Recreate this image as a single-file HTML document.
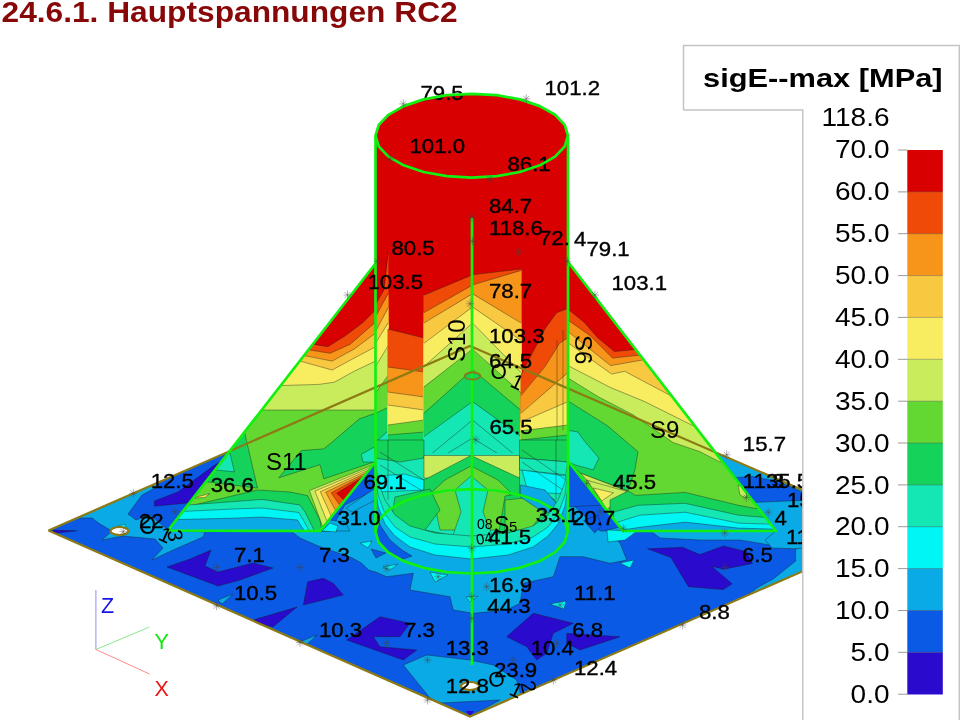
<!DOCTYPE html>
<html><head><meta charset="utf-8">
<style>
html,body{margin:0;padding:0;background:#fff;width:960px;height:720px;overflow:hidden}
svg{display:block}
text{font-family:"Liberation Sans",Arial,sans-serif}
.cl{stroke:#1a1a1a;stroke-width:0.6;stroke-opacity:0.65;stroke-linejoin:round}
.ln{fill:none;stroke:#1a1a1a;stroke-width:0.6;stroke-opacity:0.65;stroke-linejoin:round}
.lb text{font-size:20px;fill:#000}
</style></head><body>
<svg width="960" height="720" viewBox="0 0 960 720">
<rect width="960" height="720" fill="#fff"/>
<text transform="translate(1.5,21.6) scale(1.075,1)" font-size="29.5" font-weight="bold" fill="#880808">24.6.1. Hauptspannungen RC2</text>
<g clip-path="url(#plotclip)">
<clipPath id="plotclip"><rect x="0" y="30" width="802.5" height="690"/></clipPath>
<polygon points="48.5,530.5 470.0,346.0 896.0,530.5 470.0,716.5" fill="#0A5AE6"/>
<clipPath id="plc"><polygon points="48.5,530.5 470,346 896,530.5 470,716.5"/></clipPath><g clip-path="url(#plc)">
<polygon points="78.0,510.0 160.0,475.0 157.0,487.0 142.0,495.0 128.0,514.0 136.0,520.0 150.0,515.0 168.0,530.0 205.0,532.0 203.0,537.0 173.0,550.0 152.0,560.0 163.0,548.0 155.0,539.0 122.0,536.0 102.0,540.0 112.0,531.0 100.0,524.0 92.0,518.0 80.0,518.0" fill="#0AAAE6" class="cl"/>
<polygon points="291.0,531.0 330.0,531.0 345.0,505.0 375.0,490.0 380.0,500.0 568.0,500.0 600.0,531.0 623.0,531.0 700.0,531.0 776.0,531.0 790.0,535.0 802.0,531.0 802.0,549.0 796.0,549.0 770.0,545.0 740.0,540.0 700.0,540.0 660.0,538.0 640.0,523.0 606.7,530.0 620.0,543.3 626.7,560.0 610.0,563.3 583.3,556.7 560.0,556.7 553.3,576.7 523.3,583.3 520.0,603.3 506.7,610.0 473.3,613.3 453.3,610.0 450.0,596.7 410.0,590.0 413.3,573.3 386.7,576.7 375.5,572.0 368.6,570.0 361.7,563.3 352.0,557.8 320.0,546.7 300.0,538.0" fill="#0AAAE6" class="cl"/>
<polygon points="371.0,549.0 386.0,553.0 376.0,558.0" fill="#0A5AE6" class="cl"/>
<polygon points="346.0,508.0 375.5,488.0 375.5,500.0 352.0,512.0" fill="#0AAAE6" class="cl"/>
<polygon points="318.0,531.0 330.0,520.0 345.0,522.0 350.0,531.0" fill="#0AAAE6" class="cl"/>
<polygon points="322.0,531.0 330.0,523.0 338.0,526.0 336.0,532.0" fill="#00F5F5" class="cl"/>
<polygon points="569.0,460.8 601.7,505.3 569.0,506.7" fill="#0A5AE6" class="cl"/>
<polygon points="583.6,520.6 597.5,515.0 601.7,526.1 594.7,533.0" fill="#0A5AE6" class="cl"/>
<polygon points="607.0,530.0 637.0,531.0 625.0,540.0 608.0,542.0" fill="#00F5F5" class="cl"/>
<polygon points="218.0,600.0 233.0,594.0 222.0,604.0" fill="#0AAAE6" class="cl"/>
<polygon points="302.0,641.0 317.0,635.0 306.0,645.0" fill="#0AAAE6" class="cl"/>
<polygon points="403.3,665.0 426.7,655.0 470.0,660.0 493.3,665.0 516.7,680.0 522.0,700.0 470.0,716.5 430.0,698.0" fill="#0AAAE6" class="cl"/>
<polygon points="440.0,703.0 500.0,700.0 470.0,716.5" fill="#0A5AE6" class="cl"/>
<polygon points="466.0,711.0 474.0,711.0 470.0,717.0" fill="#2A0ACC"/>
<polygon points="700.0,440.0 810.0,490.0 802.0,492.0 779.6,481.7 752.5,476.5 735.8,477.5 721.0,458.8" fill="#0AAAE6" class="cl"/>
<polygon points="752.5,502.5 802.5,500.4 802.5,549.0 772.0,548.0 765.0,540.0 776.0,531.0" fill="#0AAAE6" class="cl"/>
<polygon points="740.0,600.0 758.9,586.7 773.3,578.9 795.6,561.1 795.6,548.9 802.5,547.8 802.5,575.0" fill="#0AAAE6" class="cl"/>
<polygon points="52.5,530.0 76.7,530.8 55.0,533.3" fill="#2A0ACC" class="cl"/>
<polygon points="154.4,501.0 178.3,491.7 213.8,465.6 220.0,462.0 210.0,480.0 187.7,503.0 154.4,506.2" fill="#2A0ACC" class="cl"/>
<polygon points="167.0,567.0 190.0,559.0 211.0,550.0 205.0,566.0 218.0,572.0 253.0,563.0 273.0,568.0 240.0,580.0 218.0,586.0" fill="#2A0ACC" class="cl"/>
<polygon points="307.7,581.7 323.3,578.3 333.3,583.3 343.3,595.0 303.3,605.0" fill="#2A0ACC" class="cl"/>
<polygon points="253.0,620.0 297.0,607.0 273.0,627.0 257.0,623.0" fill="#2A0ACC" class="cl"/>
<polygon points="346.7,640.0 380.0,616.7 410.0,623.3 400.0,636.7 373.3,636.7 380.0,646.7 416.7,650.0 403.3,660.0" fill="#2A0ACC" class="cl"/>
<polygon points="506.7,636.7 533.3,613.3 573.3,623.3 553.3,633.3 546.7,653.3 536.7,660.0 526.7,646.7" fill="#2A0ACC" class="cl"/>
<polygon points="566.7,633.3 620.0,636.7 580.0,650.0 566.7,643.3" fill="#2A0ACC" class="cl"/>
<polygon points="647.5,548.8 682.5,547.3 700.0,554.6 723.4,545.9 746.7,551.7 752.5,563.4 723.4,569.2 711.7,566.3 732.1,583.8 723.4,589.6 688.4,586.7 679.6,572.1 670.9,557.5" fill="#2A0ACC" class="cl"/>
<polygon points="360.0,543.0 372.0,541.0 368.0,548.0" fill="#00F5F5" class="cl"/>
<polygon points="383.0,567.0 398.0,564.0 390.0,570.0" fill="#00F5F5" class="cl"/>
<polygon points="430.0,572.0 448.0,575.0 435.0,582.0" fill="#00F5F5" class="cl"/>
<polygon points="466.0,597.0 478.0,596.0 470.0,602.0" fill="#00F5F5" class="cl"/>
<polygon points="550.0,604.0 566.0,601.0 564.0,609.0" fill="#00F5F5" class="cl"/>
<polygon points="115.0,527.0 125.0,524.0 128.0,533.0 118.0,537.0" fill="#00F5F5" class="cl"/>
<polygon points="620.0,563.0 634.0,560.0 630.0,568.0" fill="#00F5F5" class="cl"/>
</g>
<clipPath id="s11c"><polygon points="375.5,263.5 168,530.5 320,531 375.5,462"/></clipPath><g clip-path="url(#s11c)">
<polygon points="375.5,250.0 150.0,540.0 380.0,540.0" fill="#64D832"/>
<polygon points="244.5,432.0 257.5,488.1 207.5,481.9 150.0,482.0 150.0,432.0" fill="#14D25A" class="cl"/>
<polygon points="278.8,477.8 320.0,464.7 323.8,478.8 374.4,461.9 376.0,413.1 359.4,418.8 333.1,441.3 323.8,448.8 301.3,450.6" fill="#14D25A" class="cl"/>
<polygon points="361.3,454.4 374.4,446.9 376.0,462.0 363.0,462.0" fill="#14E6B4" class="cl"/>
<polygon points="230.0,453.0 234.4,471.9 216.2,470.0 210.0,462.0" fill="#14E6B4" class="cl"/>
<polygon points="193.0,498.0 210.0,493.5 205.0,497.5" fill="#F8EC60" class="cl"/>
<polygon points="240.0,400.0 376.0,400.0 376.0,409.0 346.3,409.4 320.0,409.4 265.6,409.4 240.0,409.4" fill="#C8EC5C" class="cl"/>
<polygon points="240.0,384.0 376.0,361.0 376.0,410.0 240.0,410.0" fill="#C8EC5C" class="cl"/>
<polygon points="280.0,385.6 318.9,384.4 334.4,382.2 354.4,371.1 375.6,361.1 376.0,240.0 240.0,240.0" fill="#F8EC60" class="cl"/>
<polygon points="300.0,361.1 332.2,370.0 358.9,355.6 375.6,346.7 376.0,240.0 260.0,240.0" fill="#F8C840" class="cl"/>
<polygon points="304.4,355.6 332.2,361.1 354.4,348.9 372.2,335.6 375.6,333.3 376.0,240.0 270.0,240.0" fill="#F7941A" class="cl"/>
<polygon points="310.0,350.0 330.0,353.3 350.0,344.4 367.8,328.9 375.6,322.2 376.0,240.0 280.0,240.0" fill="#F04A08" class="cl"/>
<polygon points="314.4,344.4 327.8,346.7 345.6,335.6 363.3,322.2 374.4,311.1 375.6,306.7 376.0,240.0 290.0,240.0" fill="#D80000" class="cl"/>
<polygon points="160.0,510.0 190.0,506.0 215.0,500.0 257.5,490.0 290.0,492.0 307.5,495.6 320.0,520.0 322.0,532.0 160.0,532.0" fill="#14D25A" class="cl"/>
<polygon points="160.0,507.0 228.0,502.0 262.0,499.4 300.0,505.0 305.0,512.0 315.0,532.0 160.0,532.0" fill="#14E6B4" class="cl"/>
<polygon points="160.0,512.5 237.5,508.8 262.0,508.0 299.0,512.5 306.0,525.0 310.0,532.0 160.0,532.0" fill="#00F5F5" class="cl"/>
<polygon points="160.0,520.0 237.5,518.0 262.0,517.0 297.5,520.0 305.0,532.0 160.0,532.0" fill="#0AAAE6" class="cl"/>
<polygon points="309.4,490.6 371.3,465.6 374.3,465.6 325.9,527.2 322.9,527.2" fill="#C8EC5C" class="cl"/>
<polygon points="314.9,491.1 369.4,468.1 372.4,468.1 330.2,521.8 327.2,521.8" fill="#F8EC60" class="cl"/>
<polygon points="320.3,491.7 367.4,470.6 370.4,470.6 334.4,516.4 331.4,516.4" fill="#F8C840" class="cl"/>
<polygon points="325.8,492.2 365.5,473.1 368.5,473.1 338.7,511.0 335.7,511.0" fill="#F7941A" class="cl"/>
<polygon points="331.2,492.8 363.5,475.5 366.5,475.5 342.9,505.6 339.9,505.6" fill="#F04A08" class="cl"/>
<polygon points="336.7,493.3 361.6,478.0 364.6,478.0 347.1,500.2 344.1,500.2" fill="#D80000" class="cl"/>
</g>
<clipPath id="s9c"><polygon points="568.5,262.5 776,531 623,531 568.5,461.5"/></clipPath><g clip-path="url(#s9c)">
<polygon points="560.0,250.0 790.0,540.0 560.0,540.0" fill="#64D832"/>
<polygon points="566.0,399.7 607.4,425.7 638.0,451.7 634.9,470.0 628.0,491.0 580.8,473.3 566.0,461.0" fill="#14D25A" class="cl"/>
<polygon points="566.0,430.0 578.0,432.0 583.6,440.0 598.9,458.0 593.3,469.9 575.3,465.0 566.0,461.0" fill="#14E6B4" class="cl"/>
<polygon points="566.0,376.8 598.2,396.7 633.4,415.0 673.1,442.5 700.0,451.7 720.0,462.0 800.0,462.0 800.0,250.0 566.0,250.0" fill="#C8EC5C" class="cl"/>
<polygon points="566.0,364.6 610.4,387.5 644.0,401.3 693.0,425.7 800.0,420.0 800.0,250.0 566.0,250.0" fill="#F8EC60" class="cl"/>
<polygon points="566.0,341.3 611.6,374.1 624.7,371.3 670.6,395.6 800.0,380.0 800.0,250.0 566.0,250.0" fill="#F8C840" class="cl"/>
<polygon points="566.0,330.0 610.6,365.6 642.5,360.0 800.0,350.0 800.0,250.0 566.0,250.0" fill="#F7941A" class="cl"/>
<polygon points="566.0,318.8 590.0,335.6 612.5,358.1 637.8,355.3 642.5,356.3 800.0,330.0 800.0,250.0 566.0,250.0" fill="#F04A08" class="cl"/>
<polygon points="566.0,307.5 584.4,322.5 597.5,337.5 614.4,351.6 633.1,349.7 640.0,345.0 800.0,330.0 800.0,250.0 566.0,250.0" fill="#D80000" class="cl"/>
<polygon points="580.8,473.3 628.0,491.4 615.6,515.0" fill="#C8EC5C" class="cl"/>
<polygon points="587.0,480.3 626.7,491.4 607.2,509.4" fill="#C8EC5C" class="cl"/>
<polygon points="593.3,488.0 613.5,492.8 601.7,501.0" fill="#F8EC60" class="cl"/>
<polygon points="610.0,500.0 628.0,491.0 635.6,495.4 685.1,492.4 738.5,505.3 754.4,508.3 790.0,512.0 790.0,540.0 610.0,540.0" fill="#14D25A" class="cl"/>
<polygon points="614.0,512.0 637.6,505.3 685.1,503.3 738.5,515.2 762.3,517.2 790.0,520.0 790.0,540.0 610.0,540.0" fill="#14E6B4" class="cl"/>
<polygon points="618.0,522.0 639.6,515.2 685.1,512.2 738.5,523.1 768.2,524.1 790.0,526.0 790.0,540.0 610.0,540.0" fill="#00F5F5" class="cl"/>
<polygon points="622.0,530.0 641.6,527.1 685.1,522.1 738.5,528.1 772.2,529.1 790.0,531.0 790.0,540.0 610.0,540.0" fill="#0AAAE6" class="cl"/>
<polygon points="738.0,485.0 747.0,490.0 746.0,498.0 740.0,495.0" fill="#C8EC5C" class="cl"/>
</g>
<clipPath id="colc"><path d="M375.5,135.7 L375.5,531.3 A96.25,42.2 0 0 0 568,531.3 L568,135.7 Z"/></clipPath><g clip-path="url(#colc)">
<polygon points="370.0,130.0 575.0,130.0 575.0,580.0 370.0,580.0" fill="#D80000"/>
<polygon points="375.0,305.0 384.0,290.0 388.5,252.0 388.5,460.0 375.0,460.0" fill="#F04A08"/>
<polygon points="375.0,317.0 388.5,293.7 388.5,460.0 375.0,460.0" fill="#F7941A"/>
<polygon points="375.0,331.7 388.5,308.0 388.5,460.0 375.0,460.0" fill="#F8C840"/>
<polygon points="375.0,343.3 388.5,323.0 388.5,460.0 375.0,460.0" fill="#F8EC60"/>
<polygon points="375.0,366.6 388.5,346.0 388.5,460.0 375.0,460.0" fill="#C8EC5C"/>
<polygon points="375.0,393.0 388.5,375.4 388.5,460.0 375.0,460.0" fill="#64D832"/>
<polygon points="375.0,413.3 388.5,407.5 388.5,460.0 375.0,460.0" fill="#14D25A"/>
<polygon points="375.0,442.5 388.5,430.8 388.5,460.0 375.0,460.0" fill="#14E6B4"/>
<polyline points="375.5,305.0 384.0,290.0 388.0,252.0" class="ln"/>
<polyline points="375.5,317.0 388.0,293.7" class="ln"/>
<polyline points="375.5,331.7 388.0,308.0" class="ln"/>
<polyline points="375.5,343.3 388.0,323.0" class="ln"/>
<polyline points="375.5,366.6 388.0,346.0" class="ln"/>
<polyline points="375.5,393.0 388.0,375.4" class="ln"/>
<polyline points="375.5,413.3 388.0,407.5" class="ln"/>
<polyline points="375.5,442.5 388.0,430.8" class="ln"/>
<polygon points="387.5,329.0 424.5,338.0 424.5,460.0 387.5,460.0" fill="#F04A08"/>
<polygon points="387.5,367.0 424.5,372.0 424.5,460.0 387.5,460.0" fill="#F7941A"/>
<polygon points="387.5,392.0 424.5,397.0 424.5,460.0 387.5,460.0" fill="#F8C840"/>
<polygon points="387.5,405.0 424.5,410.0 424.5,460.0 387.5,460.0" fill="#F8EC60"/>
<polygon points="387.5,425.0 424.5,420.0 424.5,460.0 387.5,460.0" fill="#64D832"/>
<polygon points="387.5,435.0 424.5,432.0 424.5,460.0 387.5,460.0" fill="#14D25A"/>
<polygon points="387.5,450.0 424.5,445.0 424.5,460.0 387.5,460.0" fill="#14E6B4"/>
<polyline points="388.0,329.0 424.0,338.0" class="ln"/>
<polyline points="388.0,367.0 424.0,372.0" class="ln"/>
<polyline points="388.0,392.0 424.0,397.0" class="ln"/>
<polyline points="388.0,405.0 424.0,410.0" class="ln"/>
<polyline points="388.0,425.0 424.0,420.0" class="ln"/>
<polyline points="388.0,435.0 424.0,432.0" class="ln"/>
<polyline points="388.0,450.0 424.0,445.0" class="ln"/>
<polygon points="423.5,295.2 473.0,274.8 473.0,460.0 423.5,460.0" fill="#F04A08"/>
<polygon points="423.5,312.7 473.0,285.0 473.0,460.0 423.5,460.0" fill="#F7941A"/>
<polygon points="423.5,323.0 473.0,293.7 473.0,460.0 423.5,460.0" fill="#F8C840"/>
<polygon points="423.5,343.3 473.0,306.9 473.0,460.0 423.5,460.0" fill="#F8EC60"/>
<polygon points="423.5,366.6 473.0,323.0 473.0,460.0 423.5,460.0" fill="#C8EC5C"/>
<polygon points="423.5,387.0 473.0,349.0 473.0,460.0 423.5,460.0" fill="#64D832"/>
<polygon points="423.5,413.3 473.0,369.6 473.0,460.0 423.5,460.0" fill="#14D25A"/>
<polygon points="423.5,436.6 473.0,401.6 473.0,460.0 423.5,460.0" fill="#14E6B4"/>
<polyline points="424.0,295.2 472.5,274.8" class="ln"/>
<polyline points="424.0,312.7 472.5,285.0" class="ln"/>
<polyline points="424.0,323.0 472.5,293.7" class="ln"/>
<polyline points="424.0,343.3 472.5,306.9" class="ln"/>
<polyline points="424.0,366.6 472.5,323.0" class="ln"/>
<polyline points="424.0,387.0 472.5,349.0" class="ln"/>
<polyline points="424.0,413.3 472.5,369.6" class="ln"/>
<polyline points="424.0,436.6 472.5,401.6" class="ln"/>
<polygon points="472.0,274.8 521.5,269.0 521.5,460.0 472.0,460.0" fill="#F04A08"/>
<polygon points="472.0,285.0 521.5,270.4 521.5,460.0 472.0,460.0" fill="#F7941A"/>
<polygon points="472.0,293.7 521.5,323.0 521.5,460.0 472.0,460.0" fill="#F8C840"/>
<polygon points="472.0,306.9 521.5,340.4 521.5,460.0 472.0,460.0" fill="#F8EC60"/>
<polygon points="472.0,323.0 521.5,372.5 521.5,460.0 472.0,460.0" fill="#C8EC5C"/>
<polygon points="472.0,349.0 521.5,393.0 521.5,460.0 472.0,460.0" fill="#64D832"/>
<polygon points="472.0,369.6 521.5,410.4 521.5,460.0 472.0,460.0" fill="#14D25A"/>
<polygon points="472.0,401.6 521.5,436.6 521.5,460.0 472.0,460.0" fill="#14E6B4"/>
<polyline points="472.5,274.8 521.0,269.0" class="ln"/>
<polyline points="472.5,285.0 521.0,270.4" class="ln"/>
<polyline points="472.5,293.7 521.0,323.0" class="ln"/>
<polyline points="472.5,306.9 521.0,340.4" class="ln"/>
<polyline points="472.5,323.0 521.0,372.5" class="ln"/>
<polyline points="472.5,349.0 521.0,393.0" class="ln"/>
<polyline points="472.5,369.6 521.0,410.4" class="ln"/>
<polyline points="472.5,401.6 521.0,436.6" class="ln"/>
<polygon points="520.5,375.4 545.0,328.7 556.6,312.7 568.5,308.3 568.5,460.0 520.5,460.0" fill="#F04A08"/>
<polygon points="520.5,395.8 545.0,366.6 559.6,343.3 568.5,337.5 568.5,460.0 520.5,460.0" fill="#F7941A"/>
<polygon points="520.5,413.3 568.5,372.5 568.5,460.0 520.5,460.0" fill="#F8C840"/>
<polygon points="520.5,422.0 568.5,401.6 568.5,460.0 520.5,460.0" fill="#F8EC60"/>
<polygon points="520.5,430.8 568.5,425.0 568.5,460.0 520.5,460.0" fill="#64D832"/>
<polygon points="520.5,440.0 568.5,435.0 568.5,460.0 520.5,460.0" fill="#14D25A"/>
<polyline points="521.0,375.4 545.0,328.7 556.6,312.7 568.0,308.3" class="ln"/>
<polyline points="521.0,395.8 545.0,366.6 559.6,343.3 568.0,337.5" class="ln"/>
<polyline points="521.0,413.3 568.0,372.5" class="ln"/>
<polyline points="521.0,422.0 568.0,401.6" class="ln"/>
<polyline points="521.0,430.8 568.0,425.0" class="ln"/>
<polyline points="521.0,440.0 568.0,435.0" class="ln"/>
<polyline points="430.0,455.0 472.5,420.0 515.0,455.0" class="ln"/>
<polyline points="440.0,458.0 472.5,438.0 505.0,458.0" class="ln"/>
<polyline points="557.0,340.0 557.0,440.0" class="ln"/>
<polyline points="563.0,330.0 563.0,430.0" class="ln"/>
<polygon points="370.0,453.0 575.0,453.0 575.0,580.0 370.0,580.0" fill="#14E6B4"/>
<polygon points="375.0,440.0 424.0,440.0 424.0,458.0 400.0,462.0 375.0,458.0" fill="#14D25A" class="cl"/>
<polygon points="378.0,476.0 405.0,474.0 424.0,480.0 424.0,490.0 378.0,492.0" fill="#00F5F5" class="cl"/>
<polyline points="380.0,452.0 424.0,480.0" class="ln"/>
<polyline points="380.0,465.0 424.0,492.0" class="ln"/>
<polyline points="388.0,440.0 388.0,500.0" class="ln"/>
<polygon points="424.0,455.5 519.5,455.5 519.5,478.0 424.0,478.0" fill="#C8EC5C" class="cl"/>
<polygon points="471.0,455.5 519.5,478.0 519.5,505.0 424.0,505.0 424.0,480.0" fill="#14D25A" class="cl"/>
<polygon points="471.0,466.0 498.0,480.0 510.0,492.0 505.0,530.0 440.0,530.0 432.0,492.0 445.0,480.0" fill="#64D832" class="cl"/>
<polygon points="395.0,497.0 430.0,489.0 440.0,510.0 425.0,530.0 455.0,536.0 452.0,545.0 410.0,535.0 392.0,515.0" fill="#14D25A" class="cl"/>
<polygon points="505.0,496.0 540.0,490.0 555.0,500.0 560.0,520.0 530.0,540.0 498.0,538.0" fill="#14D25A" class="cl"/>
<polygon points="505.0,500.0 535.0,497.0 545.0,510.0 530.0,530.0 505.0,530.0" fill="#64D832" class="cl"/>
<polygon points="471.0,476.0 488.0,490.0 483.0,512.0 492.0,535.0 452.0,538.0 461.0,512.0 455.0,490.0" fill="#14E6B4" class="cl"/>
<polygon points="519.5,440.0 568.0,440.0 568.0,462.0 519.5,458.0" fill="#14D25A" class="cl"/>
<polygon points="519.5,458.0 568.0,462.0 568.0,475.0 519.5,470.0" fill="#14E6B4" class="cl"/>
<polygon points="522.0,470.0 566.0,476.0 566.0,494.0 528.0,492.0" fill="#00F5F5" class="cl"/>
<polygon points="520.4,485.0 545.0,490.0 556.0,503.0 556.0,515.0 540.0,510.0 520.4,497.0" fill="#0AAAE6" class="cl"/>
<polyline points="522.0,450.0 566.0,480.0" class="ln"/>
<polyline points="522.0,462.0 566.0,492.0" class="ln"/>
<polyline points="556.0,440.0 556.0,500.0" class="ln"/>
<polygon points="370.0,462.0 375.5,462.0 378.0,482.0 385.0,500.0 395.0,515.0 410.0,526.0 435.0,533.0 471.5,536.0 508.0,533.0 533.0,526.0 548.0,515.0 558.0,500.0 565.0,482.0 567.5,462.0 575.0,462.0 575.0,590.0 370.0,590.0" fill="#14E6B4"/>
<polyline points="375.5,462.0 378.0,482.0 385.0,500.0 395.0,515.0 410.0,526.0 435.0,533.0 471.5,536.0 508.0,533.0 533.0,526.0 548.0,515.0 558.0,500.0 565.0,482.0 567.5,462.0" class="ln"/>
<polygon points="370.0,475.0 375.5,475.0 378.0,495.0 385.0,514.0 395.0,527.0 410.0,537.0 435.0,544.0 471.5,547.0 508.0,544.0 533.0,537.0 548.0,527.0 558.0,514.0 565.0,495.0 567.5,475.0 575.0,475.0 575.0,590.0 370.0,590.0" fill="#00F5F5"/>
<polyline points="375.5,475.0 378.0,495.0 385.0,514.0 395.0,527.0 410.0,537.0 435.0,544.0 471.5,547.0 508.0,544.0 533.0,537.0 548.0,527.0 558.0,514.0 565.0,495.0 567.5,475.0" class="ln"/>
<polygon points="370.0,488.0 375.5,488.0 378.0,506.0 385.0,524.0 395.0,536.0 410.0,547.0 435.0,555.0 471.5,559.0 508.0,555.0 533.0,547.0 548.0,536.0 558.0,524.0 565.0,506.0 567.5,488.0 575.0,488.0 575.0,590.0 370.0,590.0" fill="#0AAAE6"/>
<polyline points="375.5,488.0 378.0,506.0 385.0,524.0 395.0,536.0 410.0,547.0 435.0,555.0 471.5,559.0 508.0,555.0 533.0,547.0 548.0,536.0 558.0,524.0 565.0,506.0 567.5,488.0" class="ln"/>
<polygon points="375.5,505.0 380.0,525.0 390.0,540.0 402.0,550.0 412.0,556.0 400.0,560.0 375.5,560.0" fill="#0A5AE6" class="cl"/>
</g>
<polygon points="568.0,135.7 564.7,146.5 555.1,156.6 539.8,165.3 519.9,172.0 496.7,176.2 471.8,177.6 446.8,176.2 423.6,172.0 403.7,165.3 388.4,156.6 378.8,146.5 375.5,135.7 378.8,124.9 388.4,114.8 403.7,106.1 423.6,99.4 446.8,95.2 471.8,93.8 496.7,95.2 519.9,99.4 539.8,106.1 555.1,114.7 564.7,124.9" fill="#D80000"/>
<text transform="translate(420.5,100) scale(1.11,1)" font-size="20" stroke="#000" stroke-width="0.35">79.5</text>
<text transform="translate(507.5,171) scale(1.11,1)" font-size="20" stroke="#000" stroke-width="0.35">86.1</text>
<polyline points="48.5,530.5 470,716.5 896,530.5" fill="none" stroke="#8C7A14" stroke-width="2.2"/>
<polyline points="48.5,530.5 470,346 896,530.5" fill="none" stroke="#8C7A14" stroke-width="2.2"/>
<g fill="none" stroke="#12F012" stroke-width="2.7" stroke-linejoin="round">
<polygon points="568.0,135.7 564.7,146.5 555.1,156.6 539.8,165.3 519.9,172.0 496.7,176.2 471.8,177.6 446.8,176.2 423.6,172.0 403.7,165.3 388.4,156.6 378.8,146.5 375.5,135.7 378.8,124.9 388.4,114.8 403.7,106.1 423.6,99.4 446.8,95.2 471.8,93.8 496.7,95.2 519.9,99.4 539.8,106.1 555.1,114.7 564.7,124.9"/>
<polygon points="567.9,531.3 564.6,542.2 555.0,552.4 539.7,561.1 519.7,567.8 496.5,572.1 471.6,573.5 446.7,572.1 423.5,567.8 403.5,561.1 388.2,552.4 378.6,542.2 375.4,531.3 378.6,520.4 388.2,510.2 403.5,501.5 423.5,494.8 446.7,490.5 471.6,489.1 496.5,490.5 519.7,494.8 539.7,501.5 555.0,510.2 564.6,520.4"/>
<line x1="375.5" y1="135.7" x2="375.5" y2="531.3"/>
<line x1="568" y1="135.7" x2="568" y2="531.3"/>
<line x1="472" y1="218" x2="472" y2="665"/>
<polyline points="375.5,263.5 168,530.5 320,531 375.5,462"/>
<polyline points="568.5,262.5 776,531 623,531 568.5,461.5"/>
</g>
<g fill="#fff" stroke="#8C7A14" stroke-width="2.2"><ellipse cx="119.5" cy="531" rx="9" ry="4"/><ellipse cx="470" cy="686" rx="9" ry="4"/></g>
<ellipse cx="472.5" cy="376" rx="8" ry="3.5" fill="none" stroke="#8C7A14" stroke-width="1.8"/>
<g font-size="20" fill="#000" stroke="#000" stroke-width="0.35">
<text transform="translate(409.5,153.3) scale(1.11,1)">101.0</text>
<text transform="translate(544.5,95.0) scale(1.11,1)">101.2</text>
<text transform="translate(489.0,212.5) scale(1.11,1)">84.7</text>
<text transform="translate(489.0,235.0) scale(1.11,1)">118.6</text>
<text transform="translate(539.0,245.0) scale(1.11,1)">72.</text>
<text transform="translate(574.0,245.5) scale(1.11,1)">4</text>
<text transform="translate(586.5,256.0) scale(1.11,1)">79.1</text>
<text transform="translate(611.5,290.0) scale(1.11,1)">103.1</text>
<text transform="translate(391.5,255.0) scale(1.11,1)">80.5</text>
<text transform="translate(367.5,289.0) scale(1.11,1)">103.5</text>
<text transform="translate(489.0,297.5) scale(1.11,1)">78.7</text>
<text transform="translate(489.0,342.5) scale(1.11,1)">103.3</text>
<text transform="translate(489.0,368.0) scale(1.11,1)">64.5</text>
<text transform="translate(489.4,434.0) scale(1.11,1)">65.5</text>
<text transform="translate(742.8,451.0) scale(1.11,1)">15.7</text>
<text transform="translate(613.0,489.0) scale(1.11,1)">45.5</text>
<text transform="translate(742.8,488.0) scale(1.11,1)">11.3</text>
<text transform="translate(766.0,488.0) scale(1.11,1)">35.5</text>
<text transform="translate(787.0,506.7) scale(1.11,1)">15</text>
<text transform="translate(774.4,525.4) scale(1.11,1)">4</text>
<text transform="translate(785.9,544.2) scale(1.11,1)">11</text>
<text transform="translate(742.0,562.0) scale(1.11,1)">6.5</text>
<text transform="translate(572.0,525.4) scale(1.11,1)">20.7</text>
<text transform="translate(535.7,521.7) scale(1.11,1)">33.1</text>
<text transform="translate(574.0,600.0) scale(1.11,1)">11.1</text>
<text transform="translate(699.0,619.0) scale(1.11,1)">8.8</text>
<text transform="translate(489.0,592.0) scale(1.11,1)">16.9</text>
<text transform="translate(487.3,613.0) scale(1.11,1)">44.3</text>
<text transform="translate(572.3,637.0) scale(1.11,1)">6.8</text>
<text transform="translate(530.7,655.0) scale(1.11,1)">10.4</text>
<text transform="translate(445.7,655.0) scale(1.11,1)">13.3</text>
<text transform="translate(574.0,675.0) scale(1.11,1)">12.4</text>
<text transform="translate(494.0,677.0) scale(1.11,1)">23.9</text>
<text transform="translate(445.7,693.0) scale(1.11,1)">12.8</text>
<text transform="translate(319.0,637.0) scale(1.11,1)">10.3</text>
<text transform="translate(404.0,637.0) scale(1.11,1)">7.3</text>
<text transform="translate(319.0,562.0) scale(1.11,1)">7.3</text>
<text transform="translate(234.0,600.0) scale(1.11,1)">10.5</text>
<text transform="translate(234.0,562.0) scale(1.11,1)">7.1</text>
<text transform="translate(150.7,488.0) scale(1.11,1)">12.5</text>
<text transform="translate(210.7,492.0) scale(1.11,1)">36.6</text>
<text transform="translate(139.0,528.3) scale(1.11,1)">22</text>
<text transform="translate(363.5,489.0) scale(1.11,1)">69.1</text>
<text transform="translate(337.4,525.0) scale(1.11,1)">31.0</text>
<text transform="translate(488.0,543.5) scale(1.11,1)">41.5</text>
</g>
<g font-size="24" fill="#000">
<text transform="translate(266,470)">S11</text>
<text transform="translate(650,438)">S9</text>
<text x="494" y="532.5" font-size="23">S</text><text x="509" y="531.5" font-size="15">5</text><text x="477" y="529" font-size="14">08</text><text transform="translate(477,545) rotate(-10)" font-size="15">04</text>
<text transform="translate(465,362) rotate(-90)">S10</text>
<text transform="translate(575,335) rotate(90)">S6</text>
<text transform="translate(490.5,378.5) scale(1,1.05)" font-size="21">O</text><text transform="translate(509,386) rotate(25)" font-size="21">1</text>
<text transform="translate(139,533.5) scale(1,1.2)" font-size="22">O</text><text transform="translate(157,539) rotate(25)" font-size="21">1</text><text transform="translate(167,531) rotate(80)" font-size="21">3</text>
<text transform="translate(490,688) rotate(-12)" font-size="21">O</text><text transform="translate(508,694) rotate(25)" font-size="21">1</text><text transform="translate(520,683) rotate(75)" font-size="21">2</text>
</g>
<path d="M399.3,103.9h8M403.3,99.4v9M400.3,100.9l6,6M400.3,106.9l6,-6M522.3,98.8h8M526.3,94.3v9M523.3,95.8l6,6M523.3,101.8l6,-6M386.0,158.8h8M390.0,154.3v9M387.0,155.8l6,6M387.0,161.8l6,-6M486.0,178.8h8M490.0,174.3v9M487.0,175.8l6,6M487.0,181.8l6,-6M468.0,217.5h8M472.0,213.0v9M469.0,214.5l6,6M469.0,220.5l6,-6M468.5,241.3h8M472.5,236.8v9M469.5,238.3l6,6M469.5,244.3l6,-6M514.8,252.0h8M518.8,247.5v9M515.8,249.0l6,6M515.8,255.0l6,-6M373.5,261.3h8M377.5,256.8v9M374.5,258.3l6,6M374.5,264.3l6,-6M563.5,261.3h8M567.5,256.8v9M564.5,258.3l6,6M564.5,264.3l6,-6M343.5,295.0h8M347.5,290.5v9M344.5,292.0l6,6M344.5,298.0l6,-6M591.0,295.0h8M595.0,290.5v9M592.0,292.0l6,6M592.0,298.0l6,-6M466.0,303.8h8M470.0,299.3v9M467.0,300.8l6,6M467.0,306.8l6,-6M471.8,439.7h8M475.8,435.2v9M472.8,436.7l6,6M472.8,442.7l6,-6M129.3,493.3h8M133.3,488.8v9M130.3,490.3l6,6M130.3,496.3l6,-6M171.0,511.7h8M175.0,507.2v9M172.0,508.7l6,6M172.0,514.7l6,-6M119.3,531.7h8M123.3,527.2v9M120.3,528.7l6,6M120.3,534.7l6,-6M212.7,567.5h8M216.7,563.0v9M213.7,564.5l6,6M213.7,570.5l6,-6M212.7,605.8h8M216.7,601.3v9M213.7,602.8l6,6M213.7,608.8l6,-6M296.0,567.5h8M300.0,563.0v9M297.0,564.5l6,6M297.0,570.5l6,-6M296.0,642.5h8M300.0,638.0v9M297.0,639.5l6,6M297.0,645.5l6,-6M423.5,660.0h8M427.5,655.5v9M424.5,657.0l6,6M424.5,663.0l6,-6M423.5,700.0h8M427.5,695.5v9M424.5,697.0l6,6M424.5,703.0l6,-6M467.7,548.3h8M471.7,543.8v9M468.7,545.3l6,6M468.7,551.3l6,-6M382.7,568.3h8M386.7,563.8v9M383.7,565.3l6,6M383.7,571.3l6,-6M434.3,576.7h8M438.3,572.2v9M435.3,573.7l6,6M435.3,579.7l6,-6M467.7,596.7h8M471.7,592.2v9M468.7,593.7l6,6M468.7,599.7l6,-6M482.7,586.7h8M486.7,582.2v9M483.7,583.7l6,6M483.7,589.7l6,-6M556.0,605.0h8M560.0,600.5v9M557.0,602.0l6,6M557.0,608.0l6,-6M467.7,618.3h8M471.7,613.8v9M468.7,615.3l6,6M468.7,621.3l6,-6M382.7,643.3h8M386.7,638.8v9M383.7,640.3l6,6M383.7,646.3l6,-6M509.3,660.0h8M513.3,655.5v9M510.3,657.0l6,6M510.3,663.0l6,-6M552.7,643.3h8M556.7,638.8v9M553.7,640.3l6,6M553.7,646.3l6,-6M549.3,680.0h8M553.3,675.5v9M550.3,677.0l6,6M550.3,683.0l6,-6M582.7,483.3h8M586.7,478.8v9M583.7,480.3l6,6M583.7,486.3l6,-6M596.0,511.7h8M600.0,507.2v9M597.0,508.7l6,6M597.0,514.7l6,-6M619.3,528.3h8M623.3,523.8v9M620.3,525.3l6,6M620.3,531.3l6,-6M678.5,625.0h8M682.5,620.5v9M679.5,622.0l6,6M679.5,628.0l6,-6M721.0,567.5h8M725.0,563.0v9M722.0,564.5l6,6M722.0,570.5l6,-6M764.2,512.2h8M768.2,507.7v9M765.2,509.2l6,6M765.2,515.2l6,-6M722.7,454.8h8M726.7,450.3v9M723.7,451.8l6,6M723.7,457.8l6,-6M742.4,497.4h8M746.4,492.9v9M743.4,494.4l6,6M743.4,500.4l6,-6M720.7,533.0h8M724.7,528.5v9M721.7,530.0l6,6M721.7,536.0l6,-6" stroke="#444" stroke-width="0.6" stroke-opacity="0.7" fill="none"/>
<g stroke-width="1"><line x1="95.9" y1="649.5" x2="95.9" y2="590" stroke="#8c8cff"/><line x1="95.9" y1="649.5" x2="149.5" y2="627" stroke="#8ce88c"/><line x1="95.9" y1="649.5" x2="149.5" y2="674" stroke="#ff8c8c"/></g>
<g font-size="21.5"><text x="101" y="612.5" fill="#1414e6">Z</text><text x="154.5" y="648.6" fill="#14e614">Y</text><text x="154.5" y="696.4" fill="#f01414">X</text></g>
</g>
<rect x="803.5" y="110.5" width="156.5" height="610" fill="#fff"/>
<path d="M683.5,110 V45.5 H959.3 V720 M683.5,110 H802.75 V720" fill="none" stroke="#c4c4c4" stroke-width="1.5"/>
<text transform="translate(703,87) scale(1.185,1)" font-size="26" font-weight="bold" fill="#000">sigE--max [MPa]</text>
<rect x="907.3" y="150.00" width="35.5" height="42.16" fill="#D80000"/>
<rect x="907.3" y="191.86" width="35.5" height="42.16" fill="#F04A08"/>
<rect x="907.3" y="233.72" width="35.5" height="42.16" fill="#F7941A"/>
<rect x="907.3" y="275.58" width="35.5" height="42.16" fill="#F8C840"/>
<rect x="907.3" y="317.44" width="35.5" height="42.16" fill="#F8EC60"/>
<rect x="907.3" y="359.30" width="35.5" height="42.16" fill="#C8EC5C"/>
<rect x="907.3" y="401.16" width="35.5" height="42.16" fill="#64D832"/>
<rect x="907.3" y="443.02" width="35.5" height="42.16" fill="#14D25A"/>
<rect x="907.3" y="484.88" width="35.5" height="42.16" fill="#14E6B4"/>
<rect x="907.3" y="526.74" width="35.5" height="42.16" fill="#00F5F5"/>
<rect x="907.3" y="568.60" width="35.5" height="42.16" fill="#0AAAE6"/>
<rect x="907.3" y="610.46" width="35.5" height="42.16" fill="#0A5AE6"/>
<rect x="907.3" y="652.32" width="35.5" height="42.16" fill="#2A0ACC"/>
<line x1="898" y1="150.0" x2="907.3" y2="150.0" stroke="#9a9a9a" stroke-width="1"/>
<line x1="898" y1="191.9" x2="907.3" y2="191.9" stroke="#9a9a9a" stroke-width="1"/>
<line x1="898" y1="233.7" x2="907.3" y2="233.7" stroke="#9a9a9a" stroke-width="1"/>
<line x1="898" y1="275.6" x2="907.3" y2="275.6" stroke="#9a9a9a" stroke-width="1"/>
<line x1="898" y1="317.4" x2="907.3" y2="317.4" stroke="#9a9a9a" stroke-width="1"/>
<line x1="898" y1="359.3" x2="907.3" y2="359.3" stroke="#9a9a9a" stroke-width="1"/>
<line x1="898" y1="401.2" x2="907.3" y2="401.2" stroke="#9a9a9a" stroke-width="1"/>
<line x1="898" y1="443.0" x2="907.3" y2="443.0" stroke="#9a9a9a" stroke-width="1"/>
<line x1="898" y1="484.9" x2="907.3" y2="484.9" stroke="#9a9a9a" stroke-width="1"/>
<line x1="898" y1="526.7" x2="907.3" y2="526.7" stroke="#9a9a9a" stroke-width="1"/>
<line x1="898" y1="568.6" x2="907.3" y2="568.6" stroke="#9a9a9a" stroke-width="1"/>
<line x1="898" y1="610.5" x2="907.3" y2="610.5" stroke="#9a9a9a" stroke-width="1"/>
<line x1="898" y1="652.3" x2="907.3" y2="652.3" stroke="#9a9a9a" stroke-width="1"/>
<line x1="898" y1="694.2" x2="907.3" y2="694.2" stroke="#9a9a9a" stroke-width="1"/>
<g stroke="#555" stroke-width="0.6" stroke-opacity="0.7"><line x1="907.3" y1="191.9" x2="942.8" y2="191.9"/><line x1="907.3" y1="233.7" x2="942.8" y2="233.7"/><line x1="907.3" y1="275.6" x2="942.8" y2="275.6"/><line x1="907.3" y1="317.4" x2="942.8" y2="317.4"/><line x1="907.3" y1="359.3" x2="942.8" y2="359.3"/><line x1="907.3" y1="401.2" x2="942.8" y2="401.2"/><line x1="907.3" y1="443.0" x2="942.8" y2="443.0"/><line x1="907.3" y1="484.9" x2="942.8" y2="484.9"/><line x1="907.3" y1="526.7" x2="942.8" y2="526.7"/><line x1="907.3" y1="568.6" x2="942.8" y2="568.6"/><line x1="907.3" y1="610.5" x2="942.8" y2="610.5"/><line x1="907.3" y1="652.3" x2="942.8" y2="652.3"/></g>
<g font-size="25" fill="#000" text-anchor="end">
<text transform="translate(889.5,126) scale(1.12,1)">118.6</text>
<text transform="translate(889.5,158.4) scale(1.12,1)">70.0</text>
<text transform="translate(889.5,200.3) scale(1.12,1)">60.0</text>
<text transform="translate(889.5,242.2) scale(1.12,1)">55.0</text>
<text transform="translate(889.5,284.1) scale(1.12,1)">50.0</text>
<text transform="translate(889.5,326.0) scale(1.12,1)">45.0</text>
<text transform="translate(889.5,367.9) scale(1.12,1)">40.0</text>
<text transform="translate(889.5,409.7) scale(1.12,1)">35.0</text>
<text transform="translate(889.5,451.6) scale(1.12,1)">30.0</text>
<text transform="translate(889.5,493.5) scale(1.12,1)">25.0</text>
<text transform="translate(889.5,535.4) scale(1.12,1)">20.0</text>
<text transform="translate(889.5,577.3) scale(1.12,1)">15.0</text>
<text transform="translate(889.5,619.2) scale(1.12,1)">10.0</text>
<text transform="translate(889.5,661.1) scale(1.12,1)">5.0</text>
<text transform="translate(889.5,703.0) scale(1.12,1)">0.0</text>
</g>
</svg>
</body></html>
